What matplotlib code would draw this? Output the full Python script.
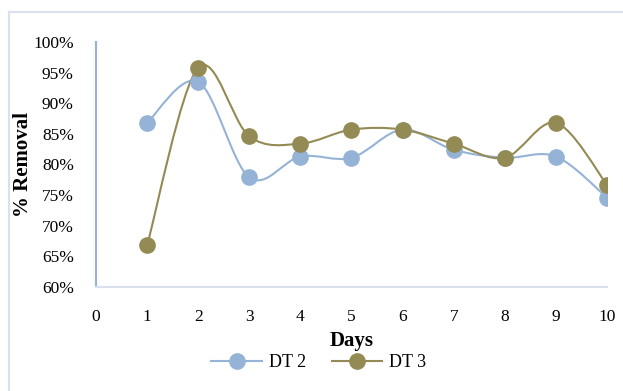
import matplotlib.pyplot as plt
from matplotlib.path import Path
from matplotlib.patches import PathPatch, Rectangle
from matplotlib.lines import Line2D
from matplotlib.ticker import PercentFormatter

plt.rcParams['font.family'] = ['Liberation Serif', 'DejaVu Serif']

days = [1, 2, 3, 4, 5, 6, 7, 8, 9, 10]
dt2 = [0.868, 0.935, 0.779, 0.813, 0.811, 0.857, 0.824, 0.811, 0.813, 0.746]
dt3 = [0.668, 0.958, 0.846, 0.834, 0.857, 0.857, 0.834, 0.811, 0.868, 0.767]
x_ticks = list(range(0, 11))
y_ticks = [0.60, 0.65, 0.70, 0.75, 0.80, 0.85, 0.90, 0.95, 1.00]

c_dt2 = '#95B3D7'
c_dt3 = '#948A54'


def smooth_path(xs, ys):
    # Excel-like smoothed line: cubic Bezier segments through every point
    verts = [(xs[0], ys[0])]
    codes = [Path.MOVETO]
    n = len(xs)
    for i in range(n - 1):
        x0, y0 = (xs[i - 1], ys[i - 1]) if i > 0 else (xs[i], ys[i])
        x1, y1 = xs[i], ys[i]
        x2, y2 = xs[i + 1], ys[i + 1]
        x3, y3 = (xs[i + 2], ys[i + 2]) if i + 2 < n else (x2, y2)
        verts += [(x1 + (x2 - x0) / 6, y1 + (y2 - y0) / 6),
                  (x2 - (x3 - x1) / 6, y2 - (y3 - y1) / 6),
                  (x2, y2)]
        codes += [Path.CURVE4] * 3
    return Path(verts, codes)


fig = plt.figure(figsize=(6.23, 3.91), dpi=100)
ax = fig.add_axes([0.1541, 0.266, 0.8202, 0.6266])

for ys, col in [(dt2, c_dt2), (dt3, c_dt3)]:
    ax.add_patch(PathPatch(smooth_path(days, ys), facecolor='none',
                           edgecolor=col, lw=1.5, zorder=2))
    ax.plot(days, ys, 'o', color=col, ms=11, zorder=3)

ax.set_xlim(0, 10)
ax.set_ylim(0.60, 1.00)
ax.set_xticks(x_ticks)
ax.set_yticks(y_ticks)
ax.yaxis.set_major_formatter(PercentFormatter(1.0, decimals=0))
ax.tick_params(length=0, labelsize=12.5)
ax.tick_params(axis='x', pad=16)
ax.tick_params(axis='y', pad=16)

for s in ['top', 'right']:
    ax.spines[s].set_visible(False)
ax.spines['left'].set_color('#95B3D7')
ax.spines['left'].set_linewidth(1.5)
ax.spines['bottom'].set_color('#D9E1EE')
ax.spines['bottom'].set_linewidth(1.5)

ax.set_xlabel('Days', fontsize=15, fontweight='bold', labelpad=4)
ax.set_ylabel('% Removal', fontsize=15, fontweight='bold')
ax.yaxis.set_label_coords(-0.123, 0.5)

handles = [Line2D([], [], color=c_dt2, marker='o', ms=11, lw=1.5),
           Line2D([], [], color=c_dt3, marker='o', ms=11, lw=1.5)]
fig.legend(handles, ['DT 2', 'DT 3'], loc='center', bbox_to_anchor=(0.512, 0.072),
           ncol=2, frameon=False, fontsize=13, handlelength=2.8, columnspacing=1.4,
           handletextpad=0.4)

fig.patches.append(Rectangle((9 / 623, -0.1), 1.2, 1 - 12 / 391 + 0.1,
                             transform=fig.transFigure, fill=False,
                             edgecolor='#D9E1EE', lw=1.5))

fig.savefig('out.png', dpi=100)
